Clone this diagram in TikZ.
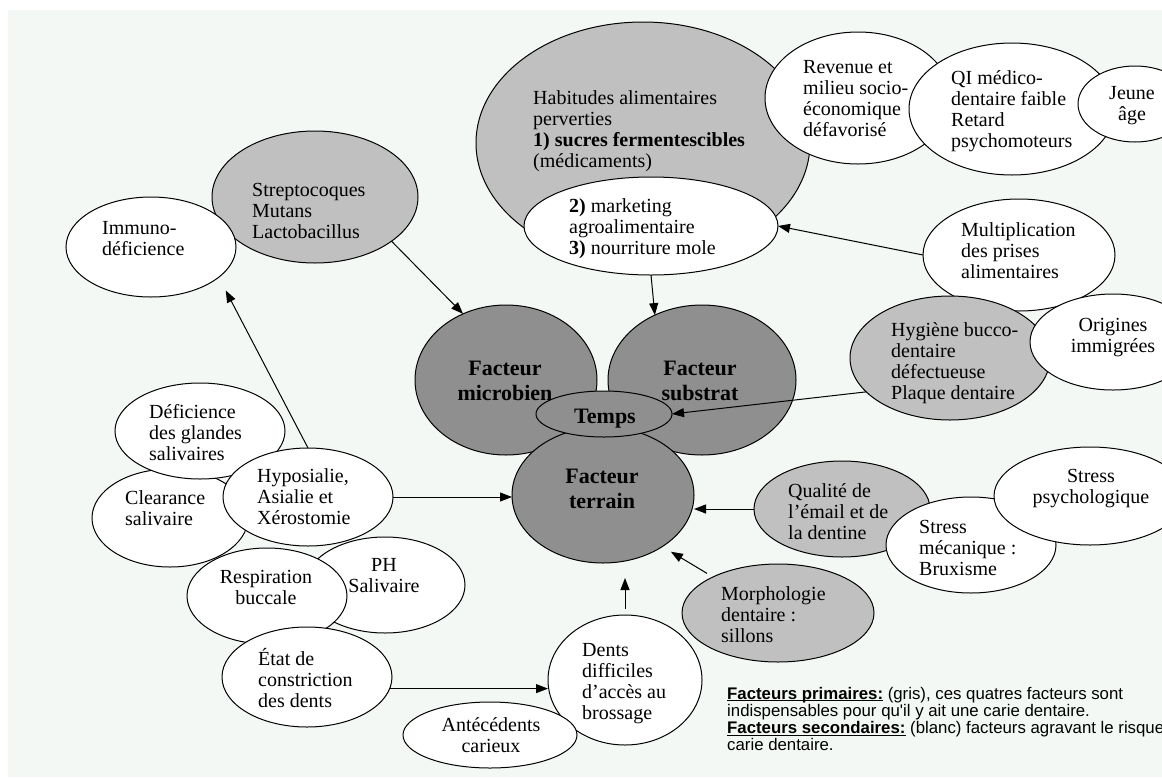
\documentclass[tikz,border=0pt]{standalone}
\usepackage{fontspec}
\setmainfont{Liberation Serif}
\newfontfamily\legendfont{Liberation Sans}
\usetikzlibrary{shapes.geometric, arrows.meta}

% multi-line text blocks whose baseline is the first line
\newcommand\txtl[1]{\begin{tabular}[t]{@{}l@{}}#1\end{tabular}}
\newcommand\txtc[1]{\begin{tabular}[t]{@{}c@{}}#1\end{tabular}}
% underline sitting just below the baseline
\newcommand\legul[1]{\setbox0\hbox{#1}\rlap{\rule[-2.2pt]{\wd0}{1.2pt}}\box0\relax}

\definecolor{bgtint}{RGB}{244,248,245}
\definecolor{primgrey}{RGB}{143,143,143}
\definecolor{secgrey}{RGB}{192,192,192}

\tikzset{
  bubble/.style={ellipse, draw=black, line width=1pt, inner sep=0pt, outer sep=0pt},
  white bubble/.style={bubble, fill=white},
  sec bubble/.style={bubble, fill=secgrey},
  prim bubble/.style={bubble, fill=primgrey},
  radii/.style 2 args={minimum width=2*#1 pt, minimum height=2*#2 pt},
  txt/.style={inner sep=0pt, font=\fontsize{20}{21}\selectfont},
  ltxt/.style={txt, anchor=base west},
  ctxt/.style={txt, anchor=base},
  ftxt/.style={inner sep=0pt, anchor=base, font=\fontsize{22}{25}\selectfont\bfseries},
  link/.style={line width=1pt, -{Triangle[length=12pt,width=9pt]}},
}

\begin{document}
\begin{tikzpicture}[x=1pt, y=-1pt]
\useasboundingbox (0,0) rectangle (1162,777);
\clip (0,0) rectangle (1162,777);
\fill[white] (0,0) rectangle (1162,777);
\fill[bgtint] (8,10) rectangle (1162,777);

% --- diet cluster (top) ---
\node[sec bubble, radii={167}{121}] (hab) at (643,143) {};
\node[white bubble, radii={127}{49}] (mark) at (651,226) {};
\node[white bubble, radii={93}{66}] (rev) at (858,98) {};
\node[white bubble, radii={103}{66}] (qi) at (1012,109) {};
\node[white bubble, radii={57}{38}] (jeune) at (1135,104) {};

% --- right side ---
\node[white bubble, radii={96}{56}] (multi) at (1019,255) {};
\node[sec bubble, radii={100}{62}] (hyg) at (950,358) {};
\node[white bubble, radii={83}{48}] (orig) at (1113,342) {};

% --- microbial cluster (top left) ---
\node[sec bubble, radii={103}{66}] (strep) at (315,197) {};
\node[white bubble, radii={85}{50}] (immuno) at (151,247) {};

% --- saliva cluster (left) ---
\node[white bubble, radii={78}{49}] (clear) at (170,518) {};
\node[white bubble, radii={85}{48}] (def) at (200,431) {};
\node[white bubble, radii={85}{49}] (hypo) at (308,497) {};
\node[white bubble, radii={80}{48}] (ph) at (385,585) {};
\node[white bubble, radii={80}{48}] (resp) at (267,596) {};
\node[white bubble, radii={85}{50}] (etat) at (307,677) {};

% --- bottom ---
\node[white bubble, radii={77}{65}] (dents) at (625,680) {};
\node[sec bubble, radii={96}{49}] (morph) at (778,613) {};
\node[white bubble, radii={87}{33}] (antec) at (490,735) {};

% --- enamel / stress ---
\node[sec bubble, radii={88}{48}] (qual) at (842,509) {};
\node[white bubble, radii={85}{48}] (smec) at (971,545) {};
\node[white bubble, radii={96}{49}] (spsy) at (1090,496) {};

% --- primary factors ---
\node[prim bubble, radii={91}{75}] (mic) at (506,380) {};
\node[prim bubble, radii={94}{75}] (sub) at (702,380) {};
\node[prim bubble, radii={91}{68}] (ter) at (603,495) {};
\node[prim bubble, radii={68}{23}] (temps) at (604,414) {};

% --- connectors ---
\draw[link] (strep.-30) -- (mic.123);
\draw[link] (mark.south) -- (sub.126);
\draw[link] (multi.west) -- (mark.east);
\draw[link] (hyg.202) -- (temps.east);
\draw[link] (hypo.east) -- (hypo.east -| ter.west);
\draw[link, shorten >=15pt] (hypo.north) -- (immuno.-24);
\draw[link] (etat.-8) -- (etat.-8 -| dents.west);
\draw[link, shorten <=6pt, shorten >=15pt] (dents.north) -- (dents.north |- ter.south);
\draw[link, shorten <=7pt, shorten >=10pt] (morph.151) -- (ter.-41);
\draw[link] (qual.west) -- (qual.west -| ter.east);

% --- labels ---
\node[ltxt] (habT) at (533,104) {\txtl{Habitudes alimentaires\\perverties\\\textbf{1) sucres fermentescibles}\\(médicaments)}};
\node[ltxt] (markT) at (569,212) {\txtl{\textbf{2)} marketing\\agroalimentaire\\\textbf{3)} nourriture mole}};
\node[ltxt] (revT) at (803,73) {\txtl{Revenue et\\milieu socio-\\économique\\défavorisé}};
\node[ltxt] (qiT) at (951,84) {\txtl{QI médico-\\dentaire faible\\Retard\\psychomoteurs}};
\node[ctxt] (jeuneT) at (1132,99) {\txtc{Jeune\\âge}};
\node[ltxt] (multiT) at (961,236) {\txtl{Multiplication\\des prises\\alimentaires}};
\node[ltxt] (hygT) at (891,336) {\txtl{Hygiène bucco-\\dentaire\\défectueuse\\Plaque dentaire}};
\node[ctxt] (origT) at (1113,331) {\txtc{Origines\\immigrées}};
\node[ltxt] (strepT) at (252,196) {\txtl{Streptocoques\\Mutans\\Lactobacillus}};
\node[ltxt] (immT) at (102,234) {\txtl{Immuno-\\déficience}};
\node[ftxt] (micT) at (505,375) {\txtc{Facteur\\microbien}};
\node[ftxt] (subT) at (700,375) {\txtc{Facteur\\substrat}};
\node[ftxt] (tempsT) at (605,423) {Temps};
\node[ftxt] (terT) at (602,483) {\txtc{Facteur\\terrain}};
\node[ltxt] (defT) at (149,418) {\txtl{Déficience\\des glandes\\salivaires}};
\node[ltxt] (clearT) at (125,504) {\txtl{Clearance\\salivaire}};
\node[ltxt] (hypoT) at (257,482) {\txtl{Hyposialie,\\Asialie et\\Xérostomie}};
\node[ctxt] (phT) at (384,571) {\txtc{PH\\Salivaire}};
\node[ctxt] (respT) at (266,583) {\txtc{Respiration\\buccale}};
\node[ltxt] (etatT) at (258,665) {\txtl{État de\\constriction\\des dents}};
\node[ctxt] (antecT) at (491,731) {\txtc{Antécédents\\carieux}};
\node[ltxt] (dentsT) at (582,656) {\txtl{Dents\\difficiles\\d’accès au\\brossage}};
\node[ltxt] (morphT) at (721,600) {\txtl{Morphologie\\dentaire :\\sillons}};
\node[ltxt] (qualT) at (788,497) {\txtl{Qualité de\\l’émail et de\\la dentine}};
\node[ltxt] (smecT) at (919,533) {\txtl{Stress\\mécanique :\\Bruxisme}};
\node[ctxt] (spsyT) at (1091,482) {\txtc{Stress\\psychologique}};

% --- legend ---
\node[inner sep=0pt, anchor=base west, font=\legendfont\fontsize{16.8}{17}\selectfont] (legT) at (727,699)
  {\txtl{\legul{\textbf{Facteurs primaires:}} (gris), ces quatres facteurs sont\\
  indispensables pour qu'il y ait une carie dentaire.\\
  \legul{\textbf{Facteurs secondaires:}} (blanc) facteurs agravant le risque\\
  carie dentaire.}};
\end{tikzpicture}
\end{document}
